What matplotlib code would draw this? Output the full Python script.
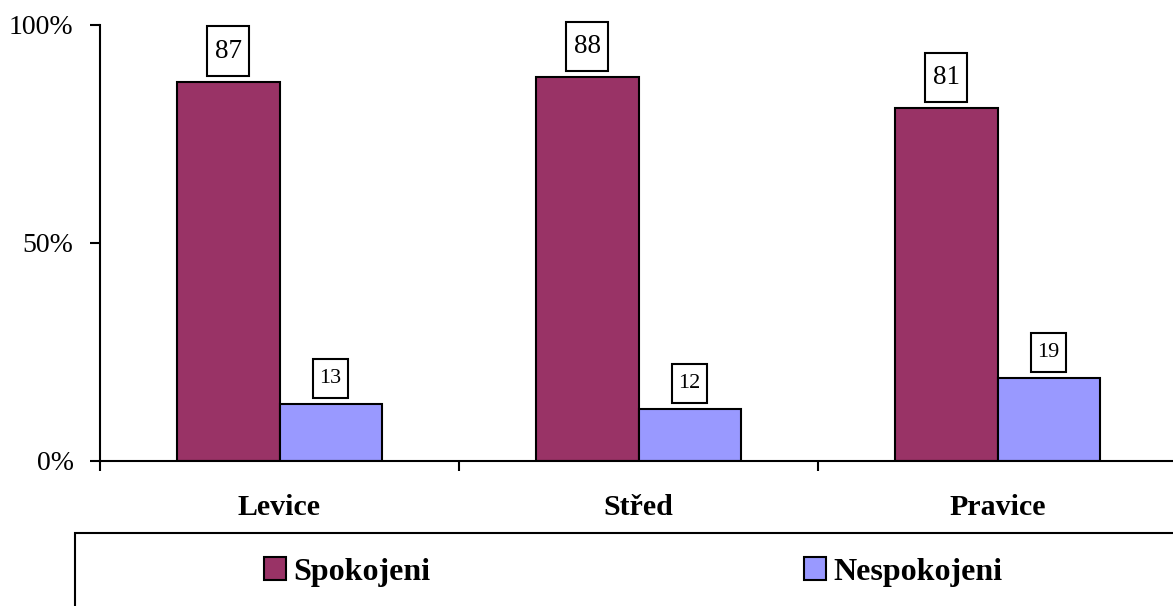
import matplotlib.pyplot as plt
import matplotlib.patches as mpatches
import numpy as np

plt.rcParams['font.family'] = ['Liberation Serif', 'DejaVu Serif']

categories = ["Levice", "Střed", "Pravice"]
spokojeni = [87, 88, 81]
nespokojeni = [13, 12, 19]
series_names = ["Spokojeni", "Nespokojeni"]
colors = ["#993366", "#9999FF"]
yticks = [0, 50, 100]
ytick_labels = ["0%", "50%", "100%"]

W, H = 1173, 606
fig = plt.figure(figsize=(W / 100, H / 100), dpi=100)
ax = fig.add_axes([100 / W, (H - 461) / H, 1077 / W, 436 / H])

x = np.arange(len(categories))
bw = 0.285
b1 = ax.bar(x - bw / 2, spokojeni, bw, color=colors[0], edgecolor="black", linewidth=1.5)
b2 = ax.bar(x + bw / 2, nespokojeni, bw, color=colors[1], edgecolor="black", linewidth=1.5)

pad, asp = 0.28, 1.6
for bars, vals, fs in [(b1, spokojeni, 19.5), (b2, nespokojeni, 16)]:
    for rect, v in zip(bars, vals):
        ax.annotate(str(v), xy=(rect.get_x() + rect.get_width() / 2, v),
                    xytext=(0, 4.3 + pad * asp * fs), textcoords="offset points",
                    ha="center", va="bottom", fontsize=fs,
                    bbox=dict(boxstyle=f"square,pad={pad}", fc="white", ec="black",
                              lw=1.5, mutation_aspect=asp))

ax.set_xlim(-0.5, 2.5)
ax.set_ylim(0, 100)
ax.set_yticks(yticks)
ax.set_yticklabels(ytick_labels, fontsize=20)
ax.set_xticks(x)
ax.set_xticklabels(categories, fontsize=21.5, fontweight="bold")
ax.set_xticks([-0.5, 0.5, 1.5], minor=True)
ax.tick_params(axis="x", which="major", length=0, pad=24)
ax.tick_params(axis="x", which="minor", length=7, width=1.5, direction="out")
ax.tick_params(axis="y", length=7, width=1.5, direction="out", pad=12)
for s in ["top", "right"]:
    ax.spines[s].set_visible(False)
for s in ["left", "bottom"]:
    ax.spines[s].set_linewidth(1.5)

# legend box
fig.patches.append(mpatches.Rectangle((75 / W, -0.05), 1.2, (H - 533) / H + 0.05,
                                      transform=fig.transFigure, fc="white",
                                      ec="black", lw=1.5))
fig.legend([b1, b2], series_names, loc="center", bbox_to_anchor=(633 / W, 1 - 572 / H),
           ncol=2, frameon=False, columnspacing=11.7, handlelength=0.69,
           handleheight=0.69, handletextpad=0.22, borderpad=0, borderaxespad=0,
           prop=dict(size=23, weight="bold"))

fig.savefig("out.png", dpi=100)
